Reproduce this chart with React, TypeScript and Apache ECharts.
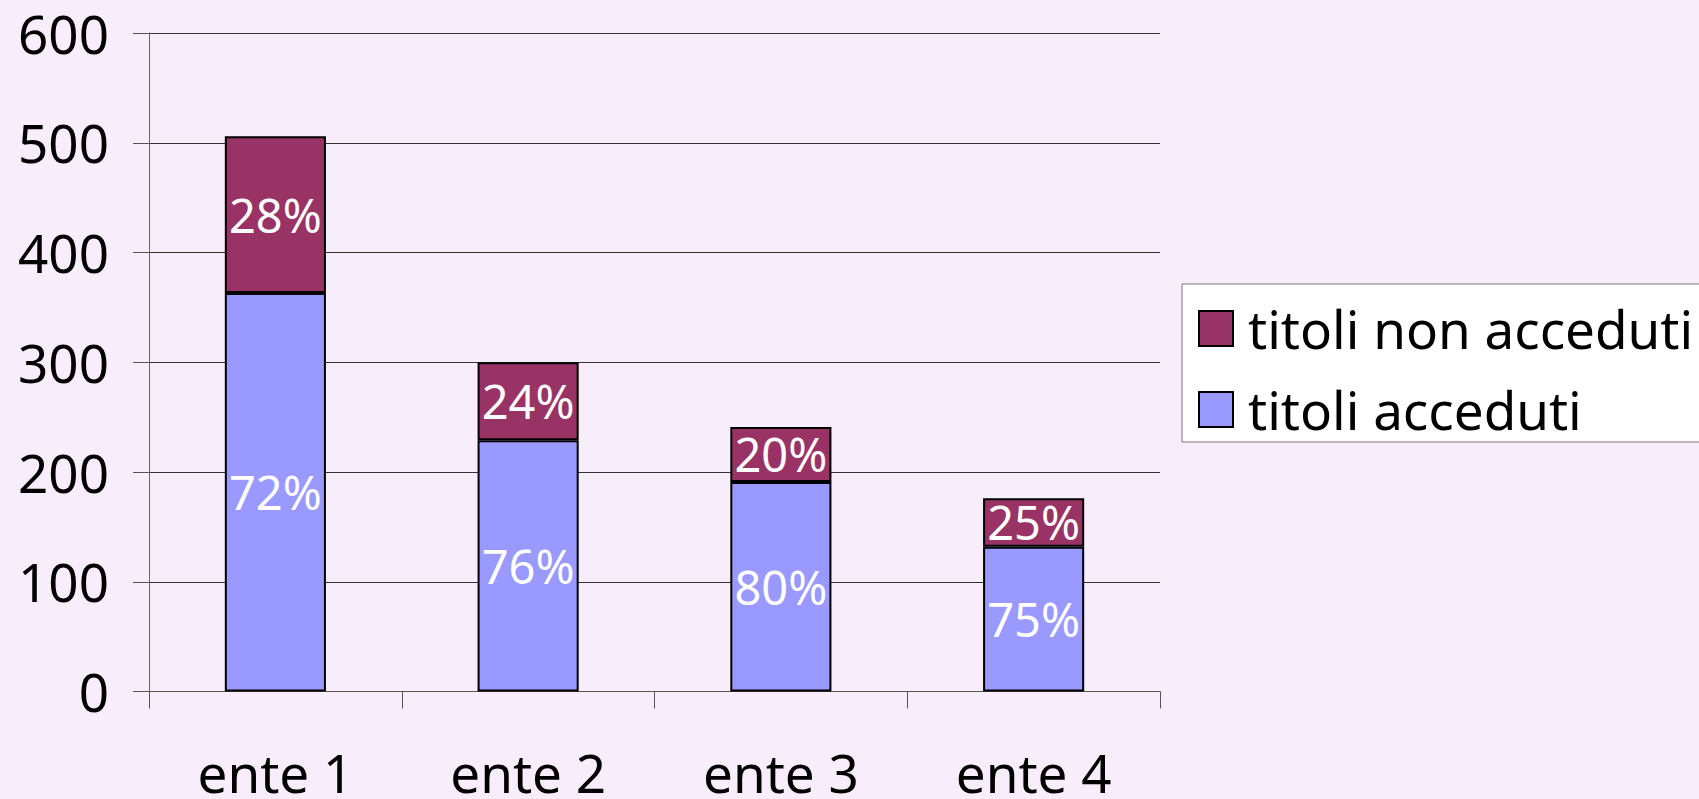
import React, { useEffect, useRef } from "react";
import * as echarts from "echarts";

const categories = ["ente 1", "ente 2", "ente 3", "ente 4"];
const accessed = [363, 229, 191, 132];
const notAccessed = [143, 71, 50, 44];
const pctAccessed = [72, 76, 80, 75];
const pctNotAccessed = [28, 24, 20, 25];
const yTicks = { min: 0, max: 600, interval: 100 };

const FONT = "'Noto Sans', 'Liberation Sans', Arial, sans-serif";

export default function App() {
  const ref = useRef<HTMLDivElement>(null);
  useEffect(() => {
    if (!ref.current) return;
    const chart = echarts.init(ref.current, undefined, { renderer: "svg" });
    chart.setOption({
      animation: false,
      backgroundColor: "#F8EDFA",
      textStyle: { fontFamily: FONT },
      grid: { left: 149, top: 33, right: 539, bottom: 106, containLabel: false },
      legend: {
        orient: "vertical",
        left: 1182,
        top: 284,
        data: ["titoli non acceduti", "titoli acceduti"],
        itemWidth: 34,
        itemHeight: 35,
        itemGap: 28,
        padding: [18, 60, 6, 16],
        backgroundColor: "#ffffff",
        borderColor: "#777",
        borderWidth: 1,
        icon: "rect",
        textStyle: { fontSize: 53, color: "#000", fontFamily: FONT, padding: [0, 0, 0, 10] },
      },
      xAxis: {
        type: "category",
        data: categories,
        axisLine: { show: true, lineStyle: { color: "#555", width: 1 } },
        axisTick: { show: true, length: 17, alignWithLabel: false, lineStyle: { color: "#555" } },
        axisLabel: { fontSize: 53, lineHeight: 42, color: "#000", margin: 60, fontFamily: FONT },
        splitLine: { show: false },
      },
      yAxis: {
        type: "value",
        min: yTicks.min,
        max: yTicks.max,
        interval: yTicks.interval,
        axisLine: { show: true, lineStyle: { color: "#666", width: 1 } },
        axisTick: { show: true, length: 16, lineStyle: { color: "#555" } },
        axisLabel: { fontSize: 53, lineHeight: 42, color: "#000", margin: 40, fontFamily: FONT },
        splitLine: { show: true, lineStyle: { color: "#333", width: 1 } },
      },
      series: [
        {
          name: "titoli acceduti",
          type: "bar",
          stack: "tot",
          barWidth: "40%",
          data: accessed,
          itemStyle: { color: "#9999FF", borderColor: "#000", borderWidth: 2 },
          label: {
            show: true,
            position: "inside",
            color: "#fff",
            fontSize: 47,
            fontFamily: FONT,
            formatter: (p: any) => pctAccessed[p.dataIndex] + "%",
          },
        },
        {
          name: "titoli non acceduti",
          type: "bar",
          stack: "tot",
          barWidth: "40%",
          data: notAccessed,
          itemStyle: { color: "#993366", borderColor: "#000", borderWidth: 2 },
          label: {
            show: true,
            position: "inside",
            color: "#fff",
            fontSize: 47,
            fontFamily: FONT,
            formatter: (p: any) => pctNotAccessed[p.dataIndex] + "%",
          },
        },
      ],
    });
    return () => chart.dispose();
  }, []);
  return (
    <div
      ref={ref}
      style={{ position: "fixed", left: 0, top: 0, width: 1699, height: 799 }}
    />
  );
}
